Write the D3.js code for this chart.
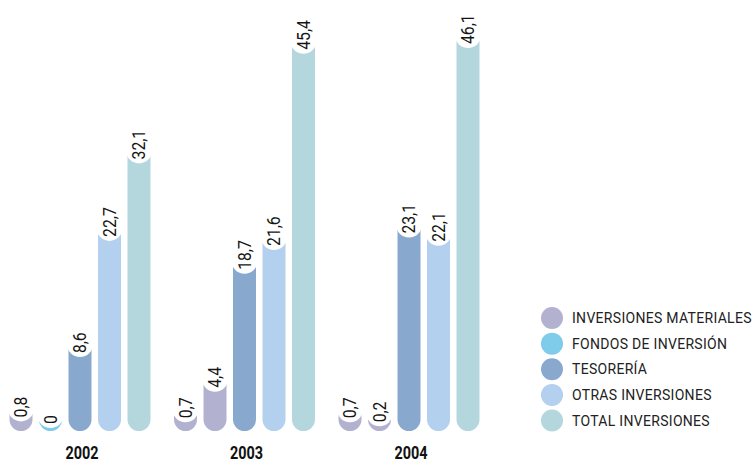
<!DOCTYPE html>
<html>
<head>
<meta charset="utf-8">
<script src="https://cdn.jsdelivr.net/npm/d3@7"></script>
<style>
  html, body { margin: 0; padding: 0; background: #fff; }
  svg { display: block; }
</style>
</head>
<body>
<svg id="chart" width="755" height="464"></svg>
<script>
// ---- data ----
const years = ["2002", "2003", "2004"];
const series = ["INVERSIONES MATERIALES", "FONDOS DE INVERSIÓN", "TESORERÍA", "OTRAS INVERSIONES", "TOTAL INVERSIONES"];
const materiales = [0.8, 0.7, 0.7];
const fondos = [0, 4.4, 0.2];
const tesoreria = [8.6, 18.7, 23.1];
const otras = [22.7, 21.6, 22.1];
const total = [32.1, 45.4, 46.1];
const legendColors = ["#b2b2d0", "#7ecbea", "#89a8cd", "#b3d0ee", "#b4d7de"];
// bar colours as printed in the reference (fondos bars for 2003/2004 appear in the lavender tone)
const barColors = [
  ["#b2b2d0", "#b2b2d0", "#b2b2d0"],
  ["#7ecbea", "#b2b2d0", "#b2b2d0"],
  ["#89a8cd", "#89a8cd", "#89a8cd"],
  ["#b3d0ee", "#b3d0ee", "#b3d0ee"],
  ["#b4d7de", "#b4d7de", "#b4d7de"]
];
const values = [materiales, fondos, tesoreria, otras, total];

// ---- layout ----
const svg = d3.select("#chart");
const x0 = d3.scalePoint().domain(years).range([80, 409]);
const x1 = d3.scalePoint().domain(series).range([-59, 59]);
const y = d3.scaleLinear().domain([0, 46.1]).range([415, 35]);
const barW = 23, r = barW / 2, bottom = 431, capR = 13;
const fmt = v => String(v).replace(".", ",");

const rows = [];
years.forEach((yr, i) => {
  series.forEach((s, j) => {
    rows.push({ year: yr, series: s, value: values[j][i], color: barColors[j][i] });
  });
});

const g = svg.append("g");
const bars = g.selectAll("g.bar").data(rows).join("g").attr("class", "bar");
const topOf = d => Math.min(y(d.value) - 8, bottom - 2 * r);

bars.append("rect")
  .attr("x", d => x0(d.year) + x1(d.series) - r)
  .attr("width", barW)
  .attr("y", topOf)
  .attr("height", d => bottom - topOf(d))
  .attr("rx", r).attr("ry", r)
  .attr("fill", d => d.color);

bars.append("circle")
  .attr("cx", d => x0(d.year) + x1(d.series))
  .attr("cy", d => y(d.value))
  .attr("r", capR)
  .attr("fill", "#ffffff");

bars.append("text")
  .attr("transform", d => `translate(${x0(d.year) + x1(d.series) + 6.2},${y(d.value) + 9}) rotate(-90) scale(0.9,1)`)
  .attr("font-family", "Roboto, 'DejaVu Sans', sans-serif")
  .attr("font-size", 17.5)
  .attr("fill", "#151515")
  .text(d => fmt(d.value));

// year labels
svg.append("g").selectAll("text").data(years).join("text")
  .attr("transform", d => `translate(${x0(d) + 2},459) scale(0.76,1)`)
  .attr("text-anchor", "middle")
  .attr("font-family", "Roboto, 'DejaVu Sans', sans-serif")
  .attr("font-weight", "bold")
  .attr("font-size", 19)
  .attr("fill", "#111")
  .text(d => d);

// legend
const ly = d3.scalePoint().domain(series).range([318, 420.5]);
const leg = svg.append("g").selectAll("g").data(series).join("g")
  .attr("transform", d => `translate(552,${ly(d)})`);
leg.append("circle").attr("r", 11).attr("fill", (d, i) => legendColors[i]);
leg.append("text")
  .attr("x", 20).attr("y", 5)
  .attr("font-family", "Roboto, 'DejaVu Sans', sans-serif")
  .attr("font-size", 14)
  .attr("letter-spacing", 0.3)
  .attr("fill", "#222")
  .text(d => d);
</script>
</body>
</html>
